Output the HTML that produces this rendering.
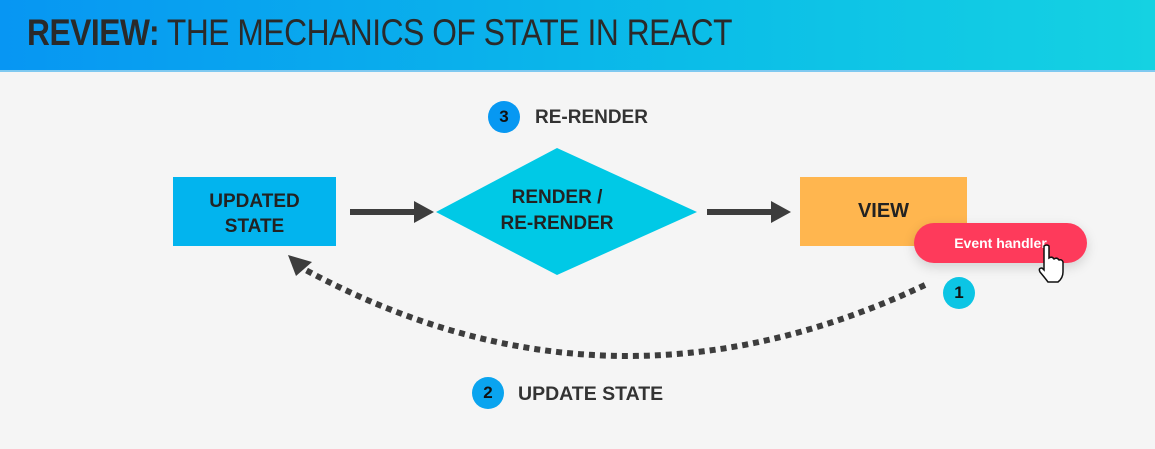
<!DOCTYPE html>
<html><head><style>
body{margin:0;width:1155px;height:449px;background:#f5f5f5;font-family:"Liberation Sans",sans-serif;overflow:hidden;position:relative}
.hdr{position:absolute;left:0;top:0;width:1155px;height:70px;background:linear-gradient(90deg,#0796f3,#0bbde8 60%,#15d2e2);border-bottom:2px solid #7fc9f0}
.title{position:absolute;left:27px;top:12px;font-size:37px;color:#2a2a2a;transform:scaleX(0.857);transform-origin:left;white-space:nowrap;letter-spacing:-0.5px}
.t{position:absolute;font-weight:bold;color:#222;text-align:center;white-space:nowrap}
.c{position:absolute;border-radius:50%;color:#111;font-weight:bold;font-size:17px;text-align:center;width:32px;height:32px;line-height:32px}
</style></head><body>
<div class="hdr"><div class="title"><b>REVIEW:</b> THE MECHANICS OF STATE IN REACT</div></div>
<svg width="1155" height="449" style="position:absolute;left:0;top:0">
<rect x="173" y="177" width="163" height="69" fill="#02b4ee"/>
<polygon points="436,212 557,148 697,212 557,275" fill="#00c9e6"/>
<rect x="800" y="177" width="167" height="69" fill="#ffb64f"/>
<line x1="350" y1="212" x2="418" y2="212" stroke="#3d3d3d" stroke-width="6"/>
<polygon points="414,201 434,212 414,223" fill="#3d3d3d"/>
<line x1="707" y1="212" x2="775" y2="212" stroke="#3d3d3d" stroke-width="6"/>
<polygon points="771,201 791,212 771,223" fill="#3d3d3d"/>
<path d="M925,285 Q608,435 302,268" fill="none" stroke="#3d3d3d" stroke-width="6" stroke-dasharray="6,5"/>
<polygon points="288,255 312,262 296,276" fill="#3d3d3d"/>
</svg>
<div class="t" style="left:173px;top:189px;width:163px;font-size:19px;line-height:25px">UPDATED<br>STATE</div>
<div class="t" style="left:480px;top:185px;width:154px;font-size:19px;line-height:26px">RENDER /<br>RE-RENDER</div>
<div class="t" style="left:800px;top:200px;width:167px;font-size:20px">VIEW</div>
<div style="position:absolute;left:914px;top:223px;width:173px;height:40px;border-radius:20px;background:#fe3a5b;color:#fff;font-weight:bold;font-size:14px;line-height:40px;text-align:center;box-shadow:0 4px 12px rgba(0,0,0,.15)">Event handler</div>
<svg width="30" height="40" style="position:absolute;left:1036px;top:244px">
<path d="M8,2 q3,-2 5,0 v12 q3,-2 5,1 q3,-2 5,1 q3,-1 4,2 v10 q0,6 -5,10 h-10 q-3,-4 -8,-10 q-2,-4 2,-4 l2,2 z" fill="#fff" stroke="#111" stroke-width="1.5"/>
</svg>
<div class="c" style="left:488px;top:101px;background:#0798f2">3</div>
<div class="t" style="left:535px;top:107px;font-size:19px;color:#333">RE-RENDER</div>
<div class="c" style="left:943px;top:277px;background:#0cc5e4">1</div>
<div class="c" style="left:472px;top:377px;background:#0aa4ef">2</div>
<div class="t" style="left:518px;top:383px;font-size:19.5px;color:#333">UPDATE STATE</div>
</body></html>
